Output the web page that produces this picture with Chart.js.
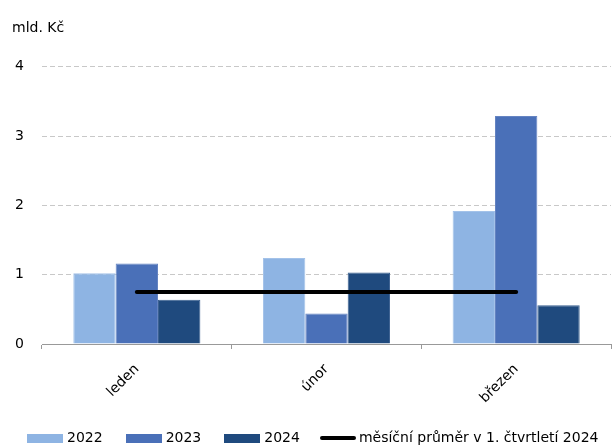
<!DOCTYPE html>
<html>
<head>
<meta charset="utf-8">
<script src="https://cdn.jsdelivr.net/npm/chart.js@4"></script>
<style>
    body { margin: 0; background: #fff; }
    #wrap { position: relative; width: 613px; height: 448px; overflow: hidden; }
    #legend { position: absolute; left: 27px; top: 428px; white-space: nowrap;
              font: 14px "DejaVu Sans", Verdana, sans-serif; color: #000; }
    #legend span.item { display: inline-block; margin-right: 23px; vertical-align: middle; }
    #legend span.item:nth-child(3) { margin-right: 20px; }
    #legend i { display: inline-block; width: 36px; height: 9px; margin-right: 4px; vertical-align: middle; }
    #legend i.ln { height: 4px; border-radius: 2px; margin-right: 3px; }
</style>
</head>
<body>
<div id="wrap">
    <canvas id="chart" width="613" height="448"></canvas>
    <div id="legend"></div>
</div>
<script>
const months = ['leden', 'únor', 'březen'];
const y2022 = [1.02, 1.24, 1.92];
const y2023 = [1.16, 0.44, 3.29];
const y2024 = [0.64, 1.03, 0.56];
const avg2024 = [0.75, 0.75, 0.75];
const yTicks = [0, 1, 2, 3, 4];

const font = { family: '"DejaVu Sans", Verdana, sans-serif', size: 14 };

function bar(label, data, color, edge) {
    return {
        label: label,
        data: data,
        backgroundColor: color,
        borderColor: edge,
        borderWidth: 1,
        barPercentage: 1,
        categoryPercentage: 0.67,
        order: 1
    };
}

const ctx = document.getElementById('chart').getContext('2d');
const chart = new Chart(ctx, {
    type: 'bar',
    data: {
        labels: months,
        datasets: [
            bar('2022', y2022, '#8EB4E3', '#A3C2E9'),
            bar('2023', y2023, '#4A70B8', '#6584C2'),
            bar('2024', y2024, '#1F4A7E', '#3A6090'),
            {
                type: 'line',
                label: 'měsíční průměr v 1. čtvrtletí 2024',
                data: avg2024,
                borderColor: '#000',
                borderWidth: 4,
                borderCapStyle: 'round',
                pointRadius: 0,
                order: 0
            }
        ]
    },
    options: {
        responsive: false,
        animation: false,
        layout: { padding: { left: 12, right: 2, top: 0, bottom: 0 } },
        plugins: {
            legend: { display: false },
            tooltip: { enabled: false },
            title: {
                display: true,
                text: 'mld. Kč',
                align: 'start',
                color: '#000',
                font: { family: font.family, size: 14, weight: 'normal' },
                padding: { top: 20, bottom: 30 }
            }
        },
        scales: {
            x: {
                grid: { drawOnChartArea: false, drawTicks: true, tickLength: 5, color: '#999', offset: true },
                border: { color: '#999' },
                ticks: { color: '#000', font: font, minRotation: 45, maxRotation: 45, padding: 12 },
                afterFit: s => { s.height = 104; }
            },
            y: {
                min: 0,
                max: 4,
                afterBuildTicks: s => { s.ticks = yTicks.map(v => ({ value: v })); },
                grid: { color: '#C8C8C8', drawTicks: false },
                border: { display: false, dash: [5, 3] },
                ticks: { color: '#000', font: font, padding: 18 },
                afterFit: s => { s.width = 30; }
            }
        }
    }
});

// legend below the chart, built from the datasets
const legend = document.getElementById('legend');
chart.data.datasets.forEach(ds => {
    const item = document.createElement('span');
    item.className = 'item';
    const mark = document.createElement('i');
    if (ds.type === 'line') {
        mark.className = 'ln';
        mark.style.background = ds.borderColor;
    } else {
        mark.style.background = ds.backgroundColor;
    }
    item.appendChild(mark);
    item.appendChild(document.createTextNode(ds.label));
    legend.appendChild(item);
});
</script>
</body>
</html>
